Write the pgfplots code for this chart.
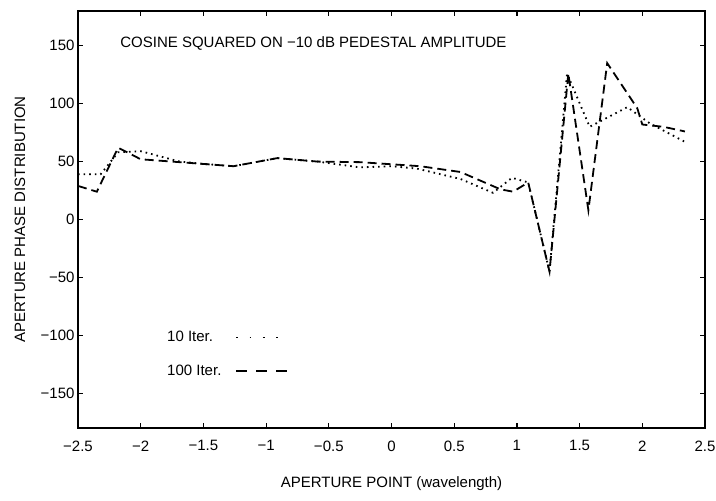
\documentclass[border=0pt]{standalone}
\usepackage{fontspec}
\setmainfont{Liberation Sans}
\usepackage{pgfplots}
\pgfplotsset{compat=1.18}
\begin{document}
\begin{tikzpicture}
\begin{axis}[
  scale only axis, width=627pt, height=417pt,
  xmin=-2.5, xmax=2.5, ymin=-180, ymax=180,
  xtick={-2.5,-2,-1.5,-1,-0.5,0,0.5,1,1.5,2,2.5},
  xticklabels={−2.5,−2,−1.5,−1,−0.5,0,0.5,1,1.5,2,2.5},
  ytick={-150,-100,-50,0,50,100,150},
  yticklabels={−150,−100,−50,0,50,100,150},
  tick label style={font=\fontsize{15}{17}\selectfont},
  axis line style={line width=1.5pt},
  tick style={line width=1.2pt, black},
  major tick length=5pt,
  tick align=inside,
  xlabel={APERTURE POINT (wavelength)},
  ylabel={APERTURE PHASE DISTRIBUTION},
  label style={font=\fontsize{15}{17}\selectfont},
  xlabel style={at={(axis description cs:0.5,0)}, anchor=center, yshift=-56pt},
  ylabel style={at={(axis description cs:0,0.5)}, anchor=center, yshift=58pt},
  xticklabel style={yshift=-9pt},
  clip=false,
  legend cell align=left,
  legend plot pos=right,
  legend style={draw=none, fill=none, at={(axis cs:-1.83,-93)}, anchor=north west,
    font=\fontsize{15}{17}\selectfont, row sep=18pt,
    /tikz/every odd column/.append style={column sep=12pt}},
]
\addplot[black, line width=1.8pt, dash pattern=on 1.6pt off 4pt,
  legend image code/.code={\draw[black, line width=1.8pt, dash pattern=on 1.8pt off 11.5pt] (0cm,0) -- (1.45cm,0);}]
coordinates {
(-2.5,39) (-2.32,39) (-2.18,58) (-2.0,59) (-1.69,50) (-1.5,48) (-1.26,46) (-0.91,53) (-0.59,50) (-0.25,45) (0.0,46) (0.2,44) (0.55,35) (0.81,23) (0.96,36) (1.09,32) (1.26,-45) (1.40,126) (1.58,80) (1.88,97) (2.06,83) (2.34,67)
};
\addlegendentry{10 Iter.}
\addplot[black, line width=1.8pt, dash pattern=on 9pt off 5pt,
  legend image code/.code={\draw[black, line width=1.8pt, dash pattern=on 11pt off 9pt] (0cm,0) -- (1.8cm,0);}]
coordinates {
(-2.5,29) (-2.35,24) (-2.18,62) (-2.0,52) (-1.69,49.5) (-1.26,46) (-0.91,53) (-0.59,50) (-0.25,49.5) (0.23,46) (0.55,41) (0.87,26) (0.97,24) (1.09,32) (1.26,-45) (1.41,126) (1.57,8) (1.72,135) (1.96,96) (2.0,82) (2.17,80) (2.34,76)
};
\addlegendentry{100 Iter.}
\node[anchor=west, font=\fontsize{15}{17}\selectfont] at (axis cs:-2.19,152) {COSINE SQUARED ON −10 dB PEDESTAL AMPLITUDE};
\end{axis}
\pgfresetboundingbox
\path[use as bounding box] ([shift={(-78pt,-72pt)}]current axis.south west) rectangle ([shift={(11pt,11pt)}]current axis.north east);
\end{tikzpicture}
\end{document}
